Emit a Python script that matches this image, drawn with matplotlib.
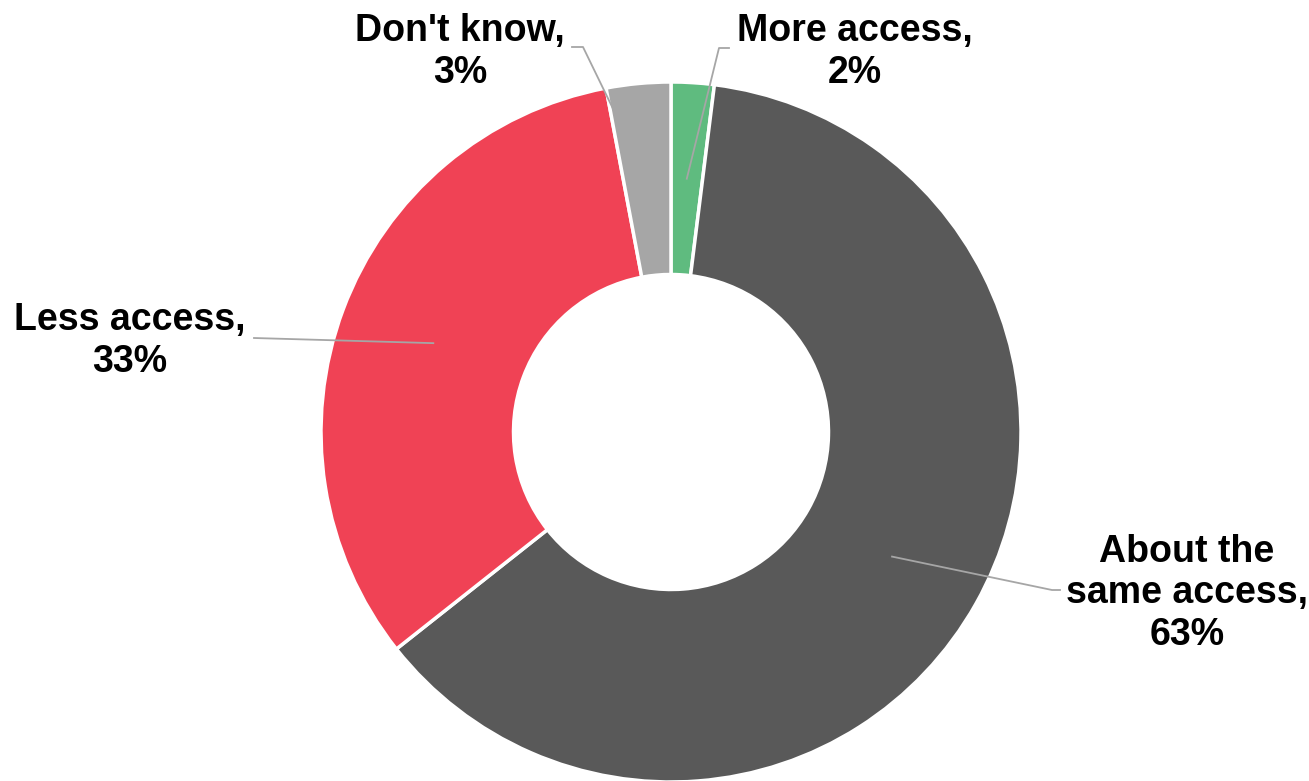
import numpy as np
import matplotlib.pyplot as plt

plt.rcParams['font.family'] = ['Liberation Sans', 'DejaVu Sans']

# survey shares, clockwise from 12 o'clock
labels = ["More access,\n2%", "About the\nsame access,\n63%", "Less access,\n33%", "Don't know,\n3%"]
values = [2, 63, 33, 3]
colors = ['#5FBB7F', '#595959', '#F04255', '#A6A6A6']

# label anchor (last-line baseline, pixels from top-left) and leader elbow / end
label_xy = [(855, 83), (1187, 645), (130, 372), (460, 83)]
leader_end = [[(719, 48), (729, 48)],
              [(1052, 590), (1060, 590)],
              [(254, 338)],
              [(583, 47), (572, 47)]]

W, H = 1309, 781
cx, cy, R = 671, 432, 350
ring = 0.55

fig = plt.figure(figsize=(W / 100, H / 100), dpi=100)
ax = fig.add_axes([0, 0, 1, 1])

wedges, _ = ax.pie(values, colors=colors, startangle=90, counterclock=False,
                   radius=R, center=(cx, H - cy),
                   wedgeprops=dict(width=R * ring, edgecolor='white', linewidth=2.5))

r_mid = R * (1 - ring / 2)
for w, lab, (tx, ty), ends in zip(wedges, labels, label_xy, leader_end):
    ang = np.deg2rad((w.theta1 + w.theta2) / 2)
    xs = [cx + r_mid * np.cos(ang)] + [p[0] for p in ends]
    ys = [H - cy + r_mid * np.sin(ang)] + [H - p[1] for p in ends]
    ax.plot(xs, ys, color='#A6A6A6', lw=1.3, zorder=3)
    ax.text(tx, H - ty, lab, ha='center', va='baseline', multialignment='center',
            fontsize=27, fontweight='bold', linespacing=1.2, zorder=4)

ax.set_xlim(0, W)
ax.set_ylim(0, H)
ax.set_aspect('auto')
ax.axis('off')

fig.savefig('out.png', dpi=100, facecolor='white')
